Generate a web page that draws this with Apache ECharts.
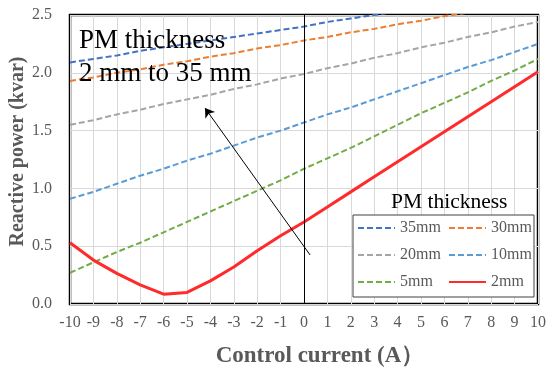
<!DOCTYPE html>
<html>
<head>
<meta charset="utf-8">
<script src="https://cdn.jsdelivr.net/npm/echarts@6/dist/echarts.min.js"></script>
<style>
  html, body { margin: 0; padding: 0; background: #fff; }
  #chart { width: 550px; height: 367px; }
</style>
</head>
<body>
<div id="chart"></div>
<script>
// control current (A)
const currents = [-10, -9, -8, -7, -6, -5, -4, -3, -2, -1, 0, 1, 2, 3, 4, 5, 6, 7, 8, 9, 10];

// reactive power (kvar) per PM thickness
const pm35 = [2.09, 2.12, 2.15, 2.19, 2.22, 2.25, 2.28, 2.31, 2.34, 2.37, 2.40, 2.44, 2.47, 2.50, 2.53, 2.56, 2.59, 2.62, 2.65, 2.68, 2.71];
const pm30 = [1.93, 1.96, 2.00, 2.03, 2.07, 2.10, 2.14, 2.17, 2.21, 2.24, 2.28, 2.31, 2.35, 2.38, 2.42, 2.45, 2.49, 2.52, 2.56, 2.59, 2.63];
const pm20 = [1.55, 1.59, 1.64, 1.68, 1.73, 1.77, 1.81, 1.86, 1.90, 1.95, 1.99, 2.04, 2.08, 2.13, 2.17, 2.22, 2.26, 2.31, 2.35, 2.40, 2.44];
const pm10 = [0.91, 0.97, 1.04, 1.11, 1.17, 1.24, 1.30, 1.37, 1.44, 1.50, 1.57, 1.64, 1.70, 1.77, 1.84, 1.91, 1.98, 2.05, 2.11, 2.18, 2.25];
const pm5 = [0.27, 0.36, 0.45, 0.53, 0.62, 0.71, 0.80, 0.89, 0.98, 1.07, 1.17, 1.26, 1.35, 1.45, 1.55, 1.65, 1.74, 1.83, 1.93, 2.02, 2.12];
const pm2 = [0.53, 0.38, 0.265, 0.165, 0.085, 0.10, 0.20, 0.32, 0.46, 0.59, 0.71, 0.84, 0.97, 1.10, 1.23, 1.36, 1.49, 1.62, 1.75, 1.88, 2.01];

const yTicks = [0, 0.5, 1.0, 1.5, 2.0, 2.5];

const serif = "Liberation Serif";
const grey = "#595959";

const chart = echarts.init(document.getElementById("chart"));

function dashed(name, data, color) {
  return {
    name: name,
    type: "line",
    data: currents.map((c, i) => [c, data[i]]),
    symbol: "none",
    lineStyle: { color: color, width: 2, type: [6, 3] },
    itemStyle: { color: color },
    clip: true,
  };
}

const legendBase = {
  orient: "vertical", top: 220, itemGap: 11, padding: 0,
  itemWidth: 37, itemHeight: 16, z: 20,
  itemStyle: { opacity: 0 },
  textStyle: { fontFamily: serif, fontSize: 16, color: grey },
};

chart.setOption({
  animation: false,
  grid: {
    left: 70, right: 12, top: 15, bottom: 63,
    outerBoundsMode: "none",
    show: true, borderColor: "#000", borderWidth: 2.5,
  },
  legend: [
    Object.assign({}, legendBase, { left: 357, data: ["35mm", "20mm", "5mm"] }),
    Object.assign({}, legendBase, { left: 448, data: ["30mm", "10mm", "2mm"] }),
  ],
  graphic: [
    {
      type: "rect", z: 10,
      shape: { x: 353, y: 215, width: 181, height: 82 },
      style: { fill: "#fff", stroke: "#404040", lineWidth: 1 },
    },
    {
      type: "text", z: 10, left: 391, top: 191,
      style: { text: "PM thickness", font: "21.5px 'Liberation Serif'", fill: "#000" },
    },
    {
      type: "text", z: 10, left: 79, top: 24,
      style: {
        text: "PM thickness\n2 mm to 35 mm",
        font: "27px 'Liberation Serif'", fill: "#000", lineHeight: 33,
      },
    },
  ],
  xAxis: {
    type: "value", min: -10, max: 10, interval: 1,
    name: "Control current (A）", nameLocation: "middle", nameGap: 41,
    nameMoveOverlap: false,
    nameTextStyle: {
      fontFamily: serif, fontSize: 23, fontWeight: "bold", color: grey,
      padding: [0, 0, 0, 32],
    },
    axisLine: { show: false },
    axisTick: { show: false },
    axisLabel: { fontFamily: serif, fontSize: 16, color: grey, margin: 11 },
    splitLine: { lineStyle: { color: "#d9d9d9", width: 1 } },
  },
  yAxis: {
    type: "value", min: 0, max: 2.5, interval: 0.5,
    name: "Reactive power (kvar)", nameLocation: "middle", nameGap: 42,
    nameMoveOverlap: false,
    nameTextStyle: {
      fontFamily: serif, fontSize: 20, fontWeight: "bold", color: grey,
      padding: [0, 0, 0, 16],
    },
    axisLine: { show: false },
    axisTick: { show: false },
    axisLabel: {
      fontFamily: serif, fontSize: 16, color: grey, margin: 18,
      formatter: (v) => yTicks.includes(v) ? v.toFixed(1) : "",
    },
    splitLine: { lineStyle: { color: "#d9d9d9", width: 1 } },
  },
  series: [
    dashed("35mm", pm35, "#4472c4"),
    dashed("30mm", pm30, "#ed7d31"),
    dashed("20mm", pm20, "#a5a5a5"),
    dashed("10mm", pm10, "#5b9bd5"),
    dashed("5mm", pm5, "#70ad47"),
    {
      name: "2mm",
      type: "line",
      data: currents.map((c, i) => [c, pm2[i]]),
      symbol: "none",
      lineStyle: { color: "#ff2a2a", width: 3 },
      itemStyle: { color: "#ff2a2a" },
      z: 3,
      markLine: {
        silent: true,
        symbol: "none",
        label: { show: false },
        lineStyle: { color: "#000", width: 1, type: "solid" },
        data: [
          { xAxis: 0 },
          [
            { coord: [0.26, 0.424], symbol: "none" },
            { coord: [-4.23, 1.695], symbol: "arrow", symbolSize: 9 },
          ],
        ],
      },
    },
  ],
});
</script>
</body>
</html>
